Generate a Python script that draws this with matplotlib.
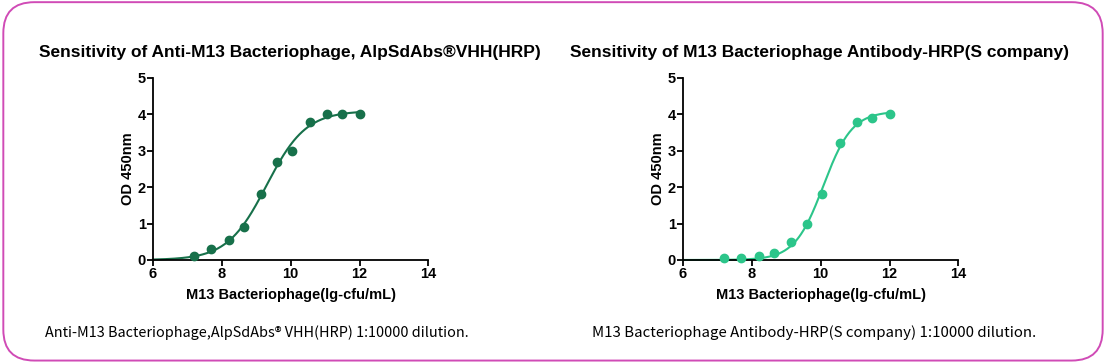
import numpy as np
import matplotlib.pyplot as plt
from matplotlib.patches import FancyBboxPatch

plt.rcParams['font.family'] = ['Liberation Sans', 'DejaVu Sans']

# data (lg cfu/mL vs OD450)
conc = [7.2, 7.7, 8.2, 8.65, 9.15, 9.6, 10.05, 10.55, 11.05, 11.5, 12.0]
od_alp = [0.12, 0.3, 0.55, 0.9, 1.8, 2.7, 3.0, 3.8, 4.0, 4.0, 4.0]
od_s = [0.05, 0.05, 0.1, 0.2, 0.5, 1.0, 1.8, 3.2, 3.8, 3.9, 4.0]

titles = ["Sensitivity of Anti-M13 Bacteriophage, AlpSdAbs\u00aeVHH(HRP)",
          "Sensitivity of M13 Bacteriophage Antibody-HRP(S company)"]
captions = ["Anti-M13 Bacteriophage,AlpSdAbs\u00ae VHH(HRP) 1:10000 dilution.",
            "M13 Bacteriophage Antibody-HRP(S company) 1:10000 dilution."]
colors = ['#17704a', '#2cc58a']


def fit_4pl(x, y):
    # crude sigmoid fit with bottom fixed at 0: grid over logEC50 / hill,
    # top from linear least squares
    x = np.asarray(x); y = np.asarray(y)
    best = None
    for ec in np.linspace(8, 11.5, 351):
        for h in np.linspace(0.3, 3.0, 271):
            s = 1 / (1 + 10 ** ((ec - x) * h))
            top = np.dot(s, y) / np.dot(s, s)
            err = np.sum((top * s - y) ** 2)
            if best is None or err < best[0]:
                best = (err, top, ec, h)
    _, top, ec, h = best
    return lambda t: top / (1 + 10 ** ((ec - t) * h))


fig = plt.figure(figsize=(11.06, 3.62), dpi=100)

border = FancyBboxPatch((0.003, 0.004), 0.994, 0.99,
                        boxstyle="round,pad=0,rounding_size=0.028",
                        transform=fig.transFigure, fill=False,
                        edgecolor='#d04bb6', linewidth=1.4,
                        mutation_aspect=1106 / 362)
fig.patches.append(border)

lefts = [0.1383, 0.6175]
series = [od_alp, od_s]
title_x = [0.262, 0.741]
cap_x = [0.041, 0.535]
cap_size = [10.4, 10.8]

for i in range(2):
    ax = fig.add_axes([lefts[i], 0.2818, 0.2490, 0.5028])
    f = fit_4pl(conc, series[i])
    xs = np.linspace(6, 12, 300)
    ax.plot(xs, f(xs), color=colors[i], lw=1.5, clip_on=False)
    ax.scatter(conc, series[i], s=36, color=colors[i], zorder=3, clip_on=False)
    ax.set_xlim(6, 14)
    ax.set_ylim(0, 5)
    ax.set_xticks([6, 8, 10, 12, 14])
    ax.set_yticks([0, 1, 2, 3, 4, 5])
    for side in ['top', 'right']:
        ax.spines[side].set_visible(False)
    for side in ['left', 'bottom']:
        ax.spines[side].set_linewidth(1.3)
    ax.tick_params(width=1.3, length=4, labelsize=10.5, pad=1)
    for lab in ax.get_xticklabels() + ax.get_yticklabels():
        lab.set_fontweight('bold')
    ax.set_xlabel("M13 Bacteriophage(lg-cfu/mL)", fontsize=10.5,
                  fontweight='bold', labelpad=5)
    ax.set_ylabel("OD 450nm", fontsize=10.5, fontweight='bold', labelpad=2)
    fig.text(title_x[i], 0.855, titles[i], ha='center', va='center',
             fontsize=12.5, fontweight='bold')
    fig.text(cap_x[i], 0.08, captions[i], ha='left', va='center',
             fontsize=cap_size[i], family=['Noto Sans CJK SC', 'DejaVu Sans'])

fig.savefig('out.png', dpi=100)
